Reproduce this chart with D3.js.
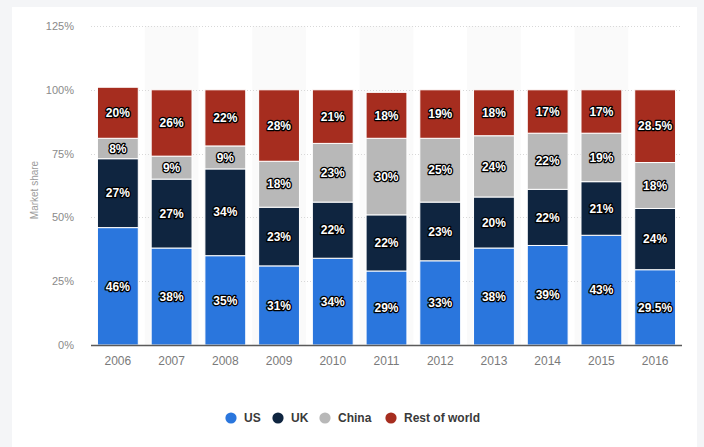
<!DOCTYPE html>
<html>
<head>
<meta charset="utf-8">
<script src="https://cdn.jsdelivr.net/npm/d3@7"></script>
<style>
  html, body { margin: 0; padding: 0; background: #f4f5f7; }
  svg { display: block; font-family: "Liberation Sans", Arial, sans-serif; }
</style>
</head>
<body>
<svg id="chart" width="704" height="447"></svg>
<script>
// Market share by year, stacked from the bottom: US, UK, China, Rest of world
const years = ["2006","2007","2008","2009","2010","2011","2012","2013","2014","2015","2016"];
const seriesNames = ["US", "UK", "China", "Rest of world"];
const us      = [46, 38, 35, 31, 34, 29, 33, 38, 39, 43, 29.5];
const uk      = [27, 27, 34, 23, 22, 22, 23, 20, 22, 21, 24];
const china   = [8, 9, 9, 18, 23, 30, 25, 24, 22, 19, 18];
const rest    = [20, 26, 22, 28, 21, 18, 19, 18, 17, 17, 28.5];
const yTicks  = [0, 25, 50, 75, 100, 125];
const colors  = ["#2a76dd", "#0f2540", "#b8b8b8", "#a62d1f"];

const seriesValues = [us, uk, china, rest];
const rows = years.map((y, i) => {
  const r = { year: y };
  seriesNames.forEach((s, k) => { r[s] = seriesValues[k][i]; });
  return r;
});
const stacked = d3.stack().keys(seriesNames)(rows);

const svg = d3.select("#chart");
const W = 704, H = 447;
const plot = { left: 91, right: 682, top: 26, bottom: 345 };

// white card
svg.append("rect").attr("x", 12).attr("y", 7).attr("width", 685).attr("height", H - 7).attr("fill", "#ffffff");

const x = d3.scaleBand().domain(years).range([plot.left, plot.right])
  .paddingInner(0.24).paddingOuter(0.12);
const y = d3.scaleLinear().domain([0, 125]).range([plot.bottom, plot.top]);
const step = x.step();

// alternating column shading
svg.append("g").selectAll("rect")
  .data(years.filter((d, i) => i % 2 === 1))
  .join("rect")
  .attr("x", d => x(d) + x.bandwidth() / 2 - step / 2)
  .attr("y", y(125))
  .attr("width", step)
  .attr("height", y(0) - y(125))
  .attr("fill", "#fafafa");

// gridlines
svg.append("g").selectAll("line")
  .data(yTicks.filter(t => t > 0))
  .join("line")
  .attr("x1", plot.left).attr("x2", plot.right)
  .attr("y1", d => Math.round(y(d)) + 0.5).attr("y2", d => Math.round(y(d)) + 0.5)
  .attr("stroke", "#d8d8d8").attr("stroke-dasharray", "1,2");

// y axis
const yAxis = svg.append("g").attr("transform", `translate(${plot.left - 14},0)`)
  .call(d3.axisLeft(y).tickValues(yTicks).tickFormat(d => d + "%").tickSize(0));
yAxis.select(".domain").remove();
yAxis.selectAll("text").attr("fill", "#8a8a8a").style("font-size", "11px").attr("dx", 0);

// y axis title
svg.append("text")
  .attr("transform", `translate(38,190) rotate(-90)`)
  .attr("text-anchor", "middle")
  .attr("fill", "#9a9a9a")
  .style("font-size", "10px")
  .text("Market share");

// stacked bars
const layer = svg.append("g").selectAll("g")
  .data(stacked)
  .join("g")
  .attr("fill", (d, i) => colors[i]);

layer.selectAll("rect")
  .data(d => d.map(p => ({ p, key: d.key })))
  .join("rect")
  .attr("x", d => x(d.p.data.year))
  .attr("y", d => y(d.p[1]))
  .attr("width", x.bandwidth())
  .attr("height", d => y(d.p[0]) - y(d.p[1]))
  .attr("stroke", "#ffffff")
  .attr("stroke-width", 1);

// value labels
const fmt = v => (Number.isInteger(v) ? v : v.toFixed(1)) + "%";
layer.selectAll("text")
  .data(d => d.map(p => ({ p, key: d.key })))
  .join("text")
  .attr("x", d => x(d.p.data.year) + x.bandwidth() / 2)
  .attr("y", d => y((d.p[0] + d.p[1]) / 2))
  .attr("dy", "0.35em")
  .attr("text-anchor", "middle")
  .attr("fill", "#ffffff")
  .attr("stroke", "#000000")
  .attr("stroke-width", 2.6)
  .attr("stroke-linejoin", "round")
  .style("paint-order", "stroke")
  .style("font-size", "12px")
  .style("font-weight", "bold")
  .text(d => fmt(d.p.data[d.key]));

// baseline
svg.append("line")
  .attr("x1", plot.left).attr("x2", plot.right)
  .attr("y1", y(0) + 0.5).attr("y2", y(0) + 0.5)
  .attr("stroke", "#5a5a5a").attr("stroke-width", 1.5);

// x axis labels
const xAxis = svg.append("g").attr("transform", `translate(0,${plot.bottom + 8})`)
  .call(d3.axisBottom(x).tickSize(0));
xAxis.select(".domain").remove();
xAxis.selectAll("text").attr("fill", "#7a7a7a").style("font-size", "12px");

// legend
const legendX = [231, 278, 325, 391];
const lg = svg.append("g").selectAll("g")
  .data(seriesNames)
  .join("g")
  .attr("transform", (d, i) => `translate(${legendX[i]},418)`);
lg.append("circle").attr("r", 5.6).attr("fill", (d, i) => colors[i]);
lg.append("text")
  .attr("x", 13).attr("dy", "0.35em")
  .attr("fill", "#3a3a3a")
  .style("font-size", "12px")
  .style("font-weight", "bold")
  .text(d => d);
</script>
</body>
</html>
